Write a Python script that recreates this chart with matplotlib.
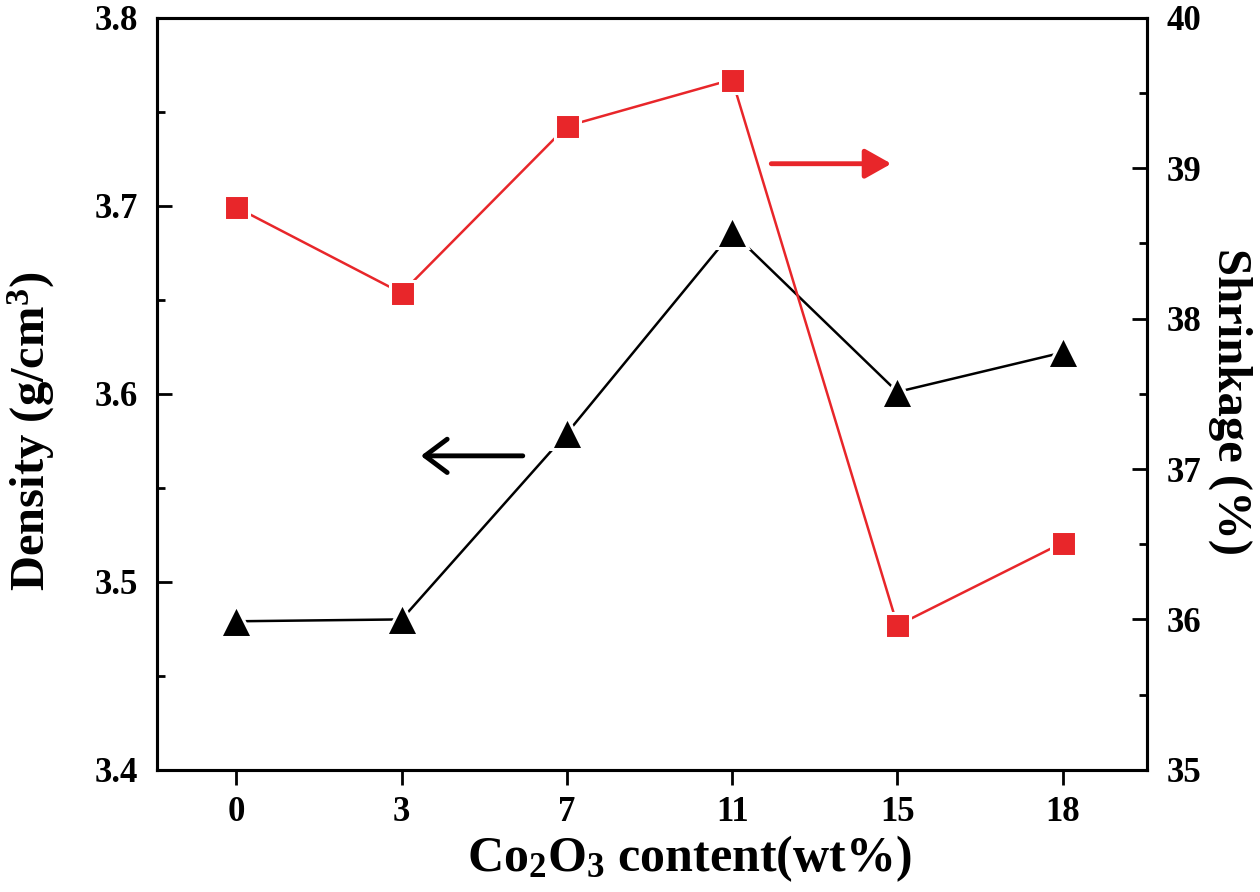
import numpy as np
import matplotlib
matplotlib.use("Agg")
import matplotlib.pyplot as plt
from matplotlib.ticker import MultipleLocator

plt.rcParams['font.family'] = ['Liberation Serif', 'DejaVu Serif']
plt.rcParams['font.weight'] = 'bold'
plt.rcParams['axes.labelweight'] = 'bold'
plt.rcParams['mathtext.default'] = 'regular'

# Co2O3 content (wt%) - plotted as evenly spaced categories
content = ['0', '3', '7', '11', '15', '18']
density = [3.479, 3.480, 3.579, 3.686, 3.601, 3.622]      # g/cm3, left axis
shrinkage = [38.74, 38.17, 39.28, 39.59, 35.96, 36.51]    # %, right axis

red = '#e8262a'
x = np.arange(len(content))

fig = plt.figure(figsize=(12.6, 8.92), dpi=100)
ax = fig.add_axes([0.1246, 0.137, 0.7857, 0.843])
ax2 = ax.twinx()

ax.plot(x, density, color='black', lw=1.8, marker='^', ms=23,
        mfc='black', mec='white', mew=2.2, zorder=3)
ax2.plot(x, shrinkage, color=red, lw=1.8, marker='s', ms=18,
         mfc=red, mec='white', mew=2.2, zorder=3)

ax.set_xlim(-0.48, 5.51)
ax.set_ylim(3.4, 3.8)
ax2.set_ylim(35, 40)

ax.set_xticks(x)
ax.set_xticklabels(content)
ax.yaxis.set_major_locator(MultipleLocator(0.1))
ax.yaxis.set_minor_locator(MultipleLocator(0.05))
ax2.yaxis.set_major_locator(MultipleLocator(1))
ax2.yaxis.set_minor_locator(MultipleLocator(0.5))

for a in (ax, ax2):
    for s in a.spines.values():
        s.set_linewidth(2.2)
    a.tick_params(axis='y', which='major', direction='in', length=11, width=2, labelsize=25, pad=14)
    a.tick_params(axis='y', which='minor', direction='in', length=6, width=2)
ax.tick_params(axis='x', which='major', direction='out', length=11, width=2, labelsize=25, pad=8)
ax.tick_params(axis='x', which='minor', length=0)

# direction arrows
ax.annotate('', xy=(1.1, 3.567), xytext=(1.75, 3.567),
            arrowprops=dict(arrowstyle='->,head_length=0.8,head_width=0.6', color='black',
                            lw=3.5, mutation_scale=20))
ax2.annotate('', xy=(3.98, 39.03), xytext=(3.22, 39.03),
             arrowprops=dict(arrowstyle='-|>,head_length=0.8,head_width=0.45', color=red,
                             lw=3.5, mutation_scale=20))

ax.set_xlabel('Co$_2$O$_3$ content(wt%)', fontsize=36)
ax.xaxis.set_label_coords(0.538, -0.085)
ax.set_ylabel('Density (g/cm$^3$)', fontsize=35)
ax.yaxis.set_label_coords(-0.101, 0.45)
ax2.set_ylabel('Shrinkage (%)', fontsize=35, rotation=270, va='bottom')
ax2.yaxis.set_label_coords(1.062, 0.49)

fig.savefig('out.png', dpi=100)
